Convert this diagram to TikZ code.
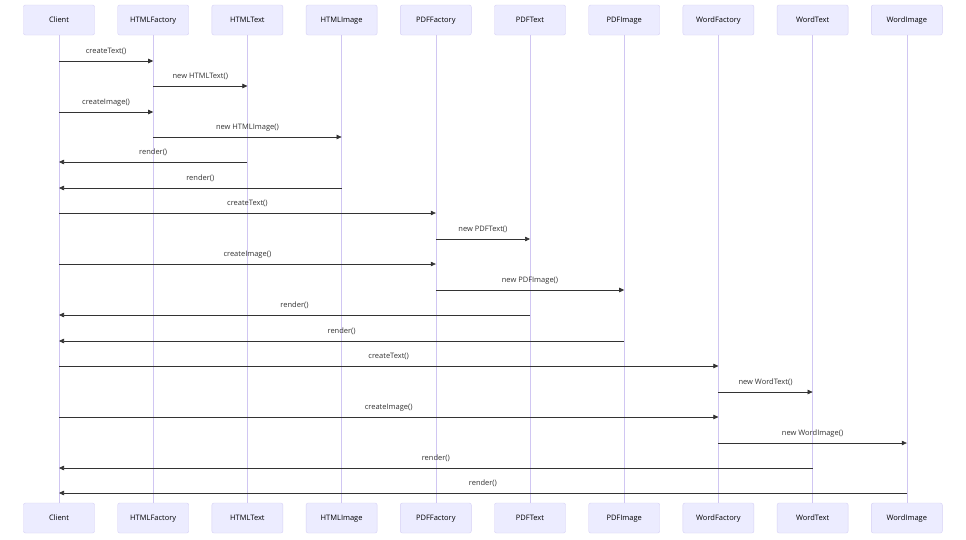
\documentclass[tikz,border=0pt]{standalone}
\usepackage{fontspec}
\setmainfont{Open Sans}
\usetikzlibrary{arrows.meta,calc}
\definecolor{boxfill}{HTML}{ECECFF}
\definecolor{boxline}{HTML}{D6D0F5}
\definecolor{life}{HTML}{D0C6F2}
\definecolor{msg}{HTML}{333333}
\begin{document}
\begin{tikzpicture}[x=1pt,y=-1pt,
  actor/.style={draw=boxline,fill=boxfill,rounded corners=2pt,minimum width=71pt,minimum height=30pt,font=\fontsize{7.5}{9}\selectfont,inner sep=0pt,text height=5.5pt,text depth=0pt},
  m/.style={draw=msg,line width=0.6pt,-{Triangle[length=5pt,width=4.5pt]}},
  lbl/.style={font=\fontsize{7.5}{9}\selectfont,text=msg,inner sep=1pt}]
\useasboundingbox[fill=white] (0,0) rectangle (966,539);
\def\names{Client,HTMLFactory,HTMLText,HTMLImage,PDFFactory,PDFText,PDFImage,WordFactory,WordText,WordImage}
\foreach \n [count=\i] in \names {
  \pgfmathsetmacro\xx{59+(\i-1)*94.2}
  \node[actor] (t\i) at (\xx,20) {\n};
  \node[actor] (b\i) at (\xx,518) {\n};
  \draw[life,line width=0.6pt] (t\i.south) -- (b\i.north);
}
\foreach \a/\b/\y/\t in {1/2/61/createText(),2/3/86/new HTMLText(),1/2/112/createImage(),2/4/137/new HTMLImage(),3/1/162/render(),4/1/188/render(),1/5/213/createText(),5/6/239/new PDFText(),1/5/264/createImage(),5/7/290/new PDFImage(),6/1/315/render(),7/1/341/render(),1/8/366/createText(),8/9/392/new WordText(),1/8/417/createImage(),8/10/443/new WordImage(),9/1/468/render(),10/1/493/render()} {
  \coordinate (s) at (t\a |- 0,\y);
  \coordinate (e) at (t\b |- 0,\y);
  \draw[m] (s) -- (e);
  \node[lbl,anchor=south] at ($(s)!0.5!(e)+(0,-5)$) {\t};
}
\end{tikzpicture}
\end{document}
